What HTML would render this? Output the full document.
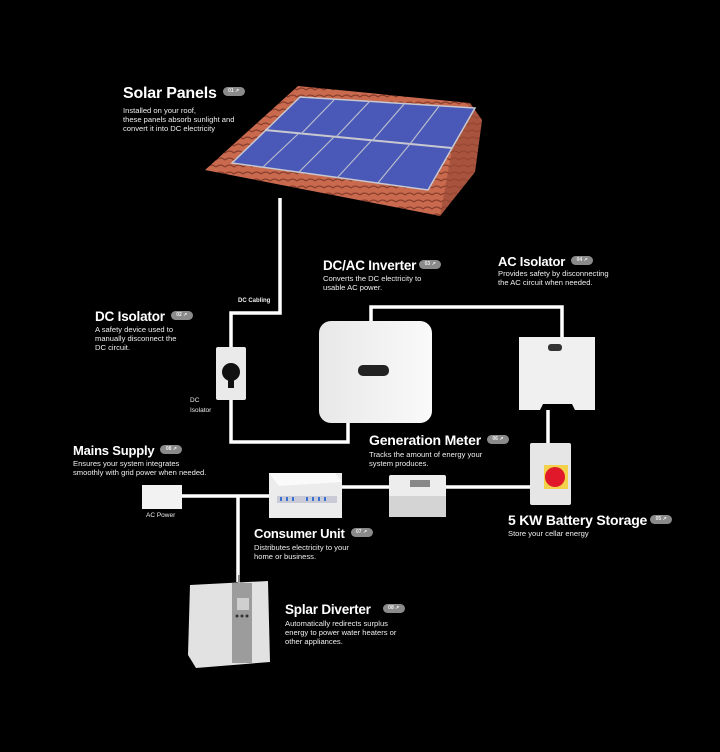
<!DOCTYPE html>
<html><head><meta charset="utf-8"><style>
html,body{margin:0;padding:0;background:#000;}
#c{position:relative;width:720px;height:752px;background:#000;overflow:hidden;font-family:"Liberation Sans",sans-serif;color:#fff;}
.t{position:absolute;font-weight:bold;white-space:nowrap;letter-spacing:-0.2px;}
.d{position:absolute;font-size:7.6px;line-height:9px;color:#eee;white-space:nowrap;}
.b{display:inline-block;vertical-align:middle;margin-left:6px;width:22px;height:9px;border-radius:5px;background:#8a8a8a;color:#eee;font-size:5px;line-height:9px;text-align:center;font-weight:bold;position:relative;top:-2px;letter-spacing:0}
.s{position:absolute;font-size:6.5px;color:#eee;}
</style></head><body><div id="c">
<svg width="720" height="752" style="position:absolute;left:0;top:0">
<defs>
<linearGradient id="wg" x1="0" x2="1"><stop offset="0" stop-color="#e8e8e8"/><stop offset="1" stop-color="#fafafa"/></linearGradient>
<pattern id="tile" width="9" height="7" patternUnits="userSpaceOnUse"><rect width="9" height="7" fill="#c96a4f"/><path d="M0 6 Q4.5 2 9 6" stroke="#8a3e2c" stroke-width="1.3" fill="none"/></pattern>
</defs>
<polygon points="298,86 470,103 482,120 475,172 440,216 420,212 205,170" fill="url(#tile)"/>
<polygon points="470,103 482,120 475,172 440,216 452,150" fill="#9a4a36" opacity="0.7"/>
<polygon points="300,97 475,108 428,190 232,163" fill="#4a58b8" stroke="#c8c8d0" stroke-width="1.5"/>
<line x1="265" y1="130" x2="452" y2="148" stroke="#c8c8d0" stroke-width="2"/>
<g stroke="#b8bccc" stroke-width="1.2">
<line x1="335" y1="99" x2="301" y2="134"/><line x1="370" y1="101" x2="336" y2="137"/><line x1="405" y1="103" x2="372" y2="141"/><line x1="440" y1="105" x2="410" y2="144"/>
<line x1="298" y1="134" x2="262" y2="168"/><line x1="334" y1="137" x2="298" y2="173"/><line x1="371" y1="141" x2="337" y2="178"/><line x1="410" y1="144" x2="377" y2="184"/>
</g>
<g stroke="#fff" stroke-width="3.5" fill="none">
<polyline points="280,198 280,313 231,313 231,347"/>
<polyline points="231,400 231,442 348,442 348,423"/>
<polyline points="371,321 371,307 562,307 562,337"/>
<line x1="548" y1="410" x2="548" y2="443"/>
<line x1="342" y1="487" x2="389" y2="487"/>
<line x1="446" y1="487" x2="530" y2="487"/>
<line x1="182" y1="496" x2="269" y2="496"/>
<line x1="238" y1="496" x2="238" y2="582"/>
</g>
<rect x="216" y="347" width="30" height="53" rx="2" fill="#eaeaea"/>
<circle cx="231" cy="372" r="9" fill="#111"/><rect x="228" y="376" width="6" height="12" fill="#111"/>
<rect x="319" y="321" width="113" height="102" rx="12" fill="url(#wg)"/>
<rect x="358" y="365" width="31" height="11" rx="5" fill="#222"/>
<path d="M519 337 H595 V410 H575 L572 404 H543 L540 410 H519 Z" fill="#f0f0f0"/>
<rect x="548" y="344" width="14" height="7" rx="3" fill="#333"/>
<rect x="530" y="443" width="41" height="62" rx="2" fill="#e6e6e6"/>
<rect x="544" y="465" width="24" height="24" fill="#f2d24a"/>
<circle cx="555" cy="477" r="10" fill="#e0182a"/>
<rect x="142" y="485" width="40" height="24" fill="#f2f2f2"/>
<rect x="269" y="473" width="73" height="45" fill="#ececec"/>
<polygon points="269,473 335,473 342,482 279,486" fill="#fafafa"/>
<rect x="277" y="496" width="60" height="7" fill="#c8cbd6"/>
<g fill="#3b6fd0"><rect x="280" y="497" width="2" height="4"/><rect x="286" y="497" width="2" height="4"/><rect x="292" y="497" width="2" height="4"/><rect x="306" y="497" width="2" height="4"/><rect x="312" y="497" width="2" height="4"/><rect x="318" y="497" width="2" height="4"/><rect x="324" y="497" width="2" height="4"/></g>
<rect x="389" y="475" width="57" height="42" rx="2" fill="#ededed"/>
<rect x="389" y="496" width="57" height="21" fill="#d4d4d4"/>
<rect x="410" y="480" width="20" height="7" fill="#888"/>
<rect x="238" y="575" width="2" height="8" fill="#888"/>
<polygon points="190,585 268,581 270,662 196,668 188,655" fill="#e2e2e2"/>
<rect x="232" y="583" width="20" height="80" fill="#9c9c9c"/>
<rect x="237" y="598" width="12" height="12" fill="#cfcfcf"/>
<g fill="#333"><circle cx="237" cy="616" r="1.5"/><circle cx="242" cy="616" r="1.5"/><circle cx="247" cy="616" r="1.5"/></g>
</svg>

<div class="t" style="left:123px;top:85px;font-size:16px">Solar Panels<span class="b">01 ↗</span></div>
<div class="d" style="left:123px;top:106px">Installed on your roof,<br>these panels absorb sunlight and<br>convert it into DC electricity</div>

<div class="s" style="left:238px;top:298px;font-weight:bold;font-size:6px">DC Cabling</div>

<div class="t" style="left:95px;top:309px;font-size:13.5px">DC Isolator<span class="b">02 ↗</span></div>
<div class="d" style="left:95px;top:325px">A safety device used to<br>manually disconnect the<br>DC circuit.</div>
<div class="s" style="left:190px;top:396px;line-height:10px">DC<br>Isolator</div>

<div class="t" style="left:323px;top:258px;font-size:13.5px">DC/AC Inverter<span class="b" style="margin-left:3px">03 ↗</span></div>
<div class="d" style="left:323px;top:274px">Converts the DC electricity to<br>usable AC power.</div>

<div class="t" style="left:498px;top:254px;font-size:13px">AC Isolator<span class="b">04 ↗</span></div>
<div class="d" style="left:498px;top:269px">Provides safety by disconnecting<br>the AC circuit when needed.</div>

<div class="t" style="left:369px;top:432px;font-size:14px">Generation Meter<span class="b">06 ↗</span></div>
<div class="d" style="left:369px;top:450px">Tracks the amount of energy your<br>system produces.</div>

<div class="t" style="left:73px;top:443px;font-size:13px">Mains Supply<span class="b">08 ↗</span></div>
<div class="d" style="left:73px;top:459px">Ensures your system integrates<br>smoothly with grid power when needed.</div>
<div class="s" style="left:146px;top:512px">AC Power</div>

<div class="t" style="left:508px;top:512px;font-size:14px">5 KW Battery Storage<span class="b" style="margin-left:3px">05 ↗</span></div>
<div class="d" style="left:508px;top:529px">Store your cellar energy</div>

<div class="t" style="left:254px;top:526px;font-size:13px">Consumer Unit<span class="b">07 ↗</span></div>
<div class="d" style="left:254px;top:543px">Distributes electricity to your<br>home or business.</div>

<div class="t" style="left:285px;top:602px;font-size:13.5px">Splar Diverter<span class="b" style="margin-left:12px">08 ↗</span></div>
<div class="d" style="left:285px;top:619px">Automatically redirects surplus<br>energy to power water heaters or<br>other appliances.</div>
</div></body></html>
